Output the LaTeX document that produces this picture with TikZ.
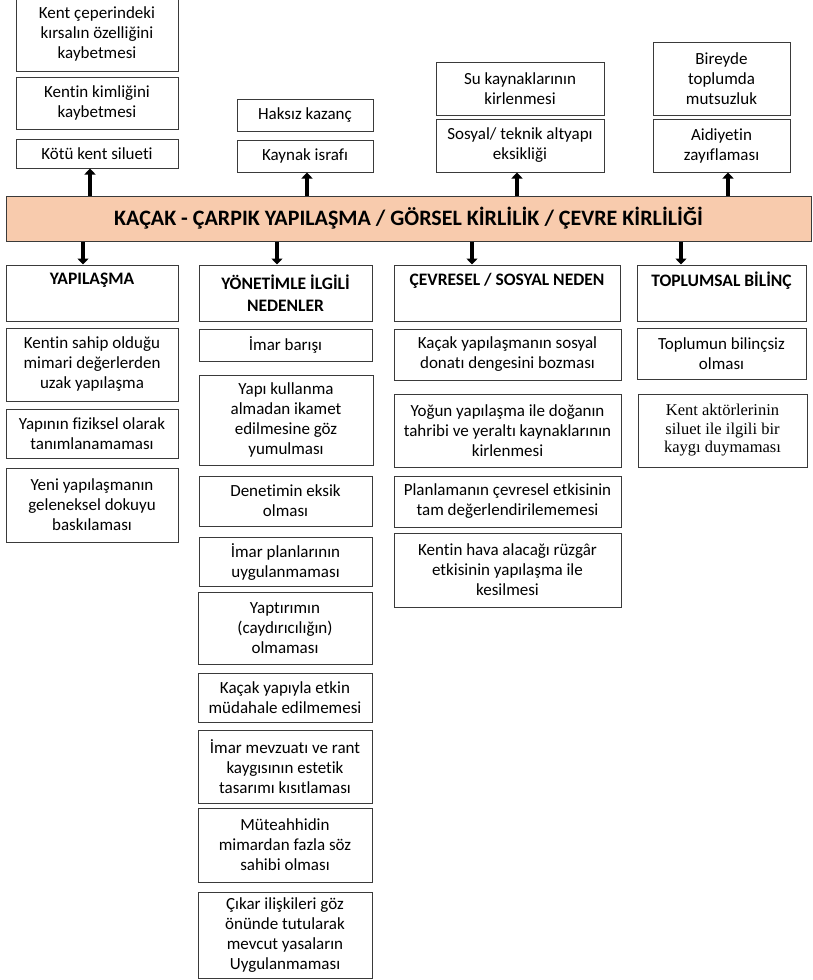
\documentclass[tikz,border=0pt]{standalone}
\usepackage{fontspec}
\setmainfont{Carlito}[Ligatures=NoCommon]
\newfontfamily\serifx{Liberation Serif}
\usetikzlibrary{arrows.meta}
\definecolor{peach}{HTML}{F8CBAD}
\definecolor{edge}{HTML}{3A3A3A}
\tikzset{
 box/.style={draw=edge, line width=1pt, align=center, inner sep=0pt, font=\fontsize{17}{20}\selectfont},
 head/.style={box, font=\fontsize{17.5}{21.5}\selectfont\bfseries},
 upar/.style={line width=3.5pt, -{Triangle[width=11pt,length=6pt]}},
}
\begin{document}
\begin{tikzpicture}[x=1pt,y=-1pt]
\useasboundingbox (0,0) rectangle (813,980);
% bar
\node[draw=edge, line width=1pt, fill=peach, minimum width=805pt, minimum height=45pt, inner sep=0pt,
  font=\fontsize{22}{24}\selectfont\bfseries] (bar) at (408.5,218.5) {KAÇAK - ÇARPIK YAPILAŞMA / GÖRSEL KİRLİLİK / ÇEVRE KİRLİLİĞİ};
% top boxes
\node[box, minimum width=162pt, minimum height=74pt] (a1) at (97,34) {Kent çeperindeki\\kırsalın özelliğini\\kaybetmesi};
\node[box, minimum width=162pt, minimum height=52pt] (a2) at (97,103) {Kentin kimliğini\\kaybetmesi};
\node[box, minimum width=162pt, minimum height=29pt] (a3) at (97,153.5) {Kötü kent silueti};
\node[box, minimum width=136pt, minimum height=32pt] (b1) at (305,115) {Haksız kazanç};
\node[box, minimum width=136pt, minimum height=32pt] (b2) at (305,156) {Kaynak israfı};
\node[box, minimum width=168pt, minimum height=53pt] (c1) at (520,88.5) {Su kaynaklarının\\kirlenmesi};
\node[box, minimum width=168pt, minimum height=53pt] (c2) at (520,145.5) {Sosyal/ teknik altyapı\\eksikliği};
\node[box, minimum width=137pt, minimum height=73pt] (d1) at (721.5,78.5) {Bireyde\\toplumda\\mutsuzluk};
\node[box, minimum width=137pt, minimum height=53pt] (d2) at (721.5,145.5) {Aidiyetin\\zayıflaması};
% arrow positions
\coordinate (ua) at (90,0); \coordinate (ub) at (307,0);
\coordinate (uc) at (517,0); \coordinate (ud) at (728,0);
\coordinate (da) at (83,0); \coordinate (db) at (277,0);
\coordinate (dc) at (472,0); \coordinate (dd) at (681,0);
% headers
\node[head, minimum width=172pt, minimum height=56pt] (h1) at (92,293) {YAPILAŞMA\\\strut};
\node[head, minimum width=173pt, minimum height=56pt] (h2) at (285.5,293) {YÖNETİMLE İLGİLİ\\NEDENLER};
\node[head, minimum width=226pt, minimum height=56pt] (h3) at (507,293) {ÇEVRESEL / SOSYAL NEDEN\\\strut};
\node[head, minimum width=169pt, minimum height=56pt] (h4) at (721.5,293) {TOPLUMSAL BİLİNÇ\\\strut};
% column 1
\node[box, minimum width=172pt, minimum height=73pt] (p1) at (92,364.5) {Kentin sahip olduğu\\mimari değerlerden\\uzak yapılaşma};
\node[box, minimum width=172pt, minimum height=49pt] (p2) at (92,433.5) {Yapının fiziksel olarak\\tanımlanamaması};
\node[box, minimum width=172pt, minimum height=74pt] (p3) at (92,505) {Yeni yapılaşmanın\\geleneksel dokuyu\\baskılaması};
% column 2
\node[box, minimum width=173pt, minimum height=32pt] (q1) at (285.5,345) {İmar barışı};
\node[box, minimum width=174pt, minimum height=90pt] (q2) at (286,420) {Yapı kullanma\\almadan ikamet\\edilmesine göz\\yumulması};
\node[box, minimum width=173pt, minimum height=50pt] (q3) at (285.5,501) {Denetimin eksik\\olması};
\node[box, minimum width=173pt, minimum height=49pt] (q4) at (285.5,562) {İmar planlarının\\uygulanmaması};
\node[box, minimum width=174pt, minimum height=72pt] (q5) at (285,628) {Yaptırımın\\(caydırıcılığın)\\olmaması};
\node[box, minimum width=174pt, minimum height=49pt] (q6) at (285,697.5) {Kaçak yapıyla etkin\\müdahale edilmemesi};
\node[box, minimum width=174pt, minimum height=73pt] (q7) at (285,766.5) {İmar mevzuatı ve rant\\kaygısının estetik\\tasarımı kısıtlaması};
\node[box, minimum width=174pt, minimum height=74pt] (q8) at (285,845) {Müteahhidin\\mimardan fazla söz\\sahibi olması};
\node[box, minimum width=174pt, minimum height=86pt] (q9) at (285,935) {Çıkar ilişkileri göz\\önünde tutularak\\mevcut yasaların\\Uygulanmaması};
% column 3
\node[box, minimum width=227pt, minimum height=51pt] (r1) at (507.5,354.5) {Kaçak yapılaşmanın sosyal\\donatı dengesini bozması};
\node[box, minimum width=227pt, minimum height=73pt] (r2) at (507.5,430.5) {Yoğun yapılaşma ile doğanın\\tahribi ve yeraltı kaynaklarının\\kirlenmesi};
\node[box, minimum width=227pt, minimum height=51pt] (r3) at (507.5,501.5) {Planlamanın çevresel etkisinin\\tam değerlendirilememesi};
\node[box, minimum width=227pt, minimum height=74pt] (r4) at (507.5,570) {Kentin hava alacağı rüzgâr\\etkisinin yapılaşma ile\\kesilmesi};
% column 4
\node[box, minimum width=169pt, minimum height=51pt] (s1) at (721.5,353.5) {Toplumun bilinçsiz\\olması};
\node[box, minimum width=169pt, minimum height=73pt, font=\serifx\fontsize{16.5}{18.5}\selectfont] (s2) at (722.5,430.5) {Kent aktörlerinin\\siluet ile ilgili bir\\kaygı duymaması};
% arrows up
\draw[upar] (bar.north -| ua) -- (a3.south -| ua);
\draw[upar] (bar.north -| ub) -- (b2.south -| ub);
\draw[upar] (bar.north -| uc) -- (c2.south -| uc);
\draw[upar] (bar.north -| ud) -- (d2.south -| ud);
% arrows down
\draw[upar] (bar.south -| da) -- (h1.north -| da);
\draw[upar] (bar.south -| db) -- (h2.north -| db);
\draw[upar] (bar.south -| dc) -- (h3.north -| dc);
\draw[upar] (bar.south -| dd) -- (h4.north -| dd);
\end{tikzpicture}
\end{document}
